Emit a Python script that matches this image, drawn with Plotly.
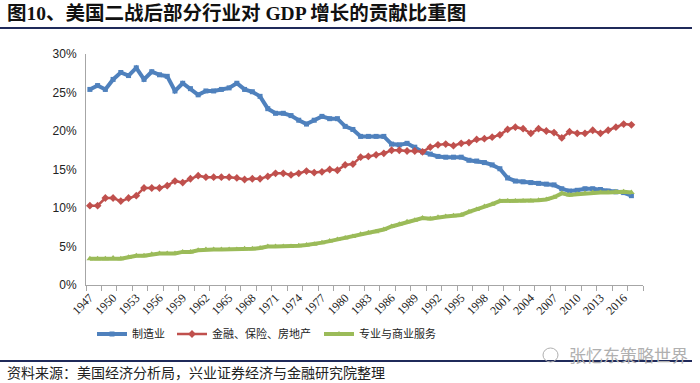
import plotly.graph_objects as go

years = list(range(1947, 2018))

manufacturing = [25.4, 25.9, 25.4, 26.7, 27.6, 27.2, 28.2, 26.7, 27.7, 27.3, 27.1, 25.2, 26.2, 25.5, 24.7, 25.2,
                 25.2, 25.4, 25.6, 26.2, 25.4, 25.1, 24.5, 22.9, 22.3, 22.3, 22.0, 21.4, 20.9, 21.4, 21.9, 21.6,
                 21.6, 20.6, 20.2, 19.3, 19.3, 19.3, 19.3, 18.3, 18.2, 18.4, 17.9, 17.3, 17.0, 16.7, 16.6, 16.6,
                 16.6, 16.2, 16.1, 15.9, 15.6, 15.1, 13.9, 13.5, 13.4, 13.3, 13.2, 13.1, 13.0, 12.5, 12.2, 12.3,
                 12.5, 12.5, 12.4, 12.2, 12.1, 12.0, 11.6]

finance = [10.3, 10.3, 11.3, 11.3, 10.9, 11.3, 11.6, 12.6, 12.6, 12.6, 12.9, 13.5, 13.3, 13.8, 14.2, 14.0,
           14.0, 14.0, 14.0, 13.9, 13.7, 13.8, 13.8, 14.1, 14.5, 14.5, 14.3, 14.5, 14.8, 14.6, 14.7, 15.0,
           14.9, 15.6, 15.7, 16.6, 16.7, 16.9, 17.1, 17.5, 17.5, 17.4, 17.4, 17.3, 17.9, 18.2, 18.3, 18.1,
           18.4, 18.5, 18.9, 19.0, 19.2, 19.5, 20.2, 20.5, 20.3, 19.7, 20.3, 20.0, 19.8, 19.1, 19.9, 19.7,
           19.7, 20.1, 19.7, 20.1, 20.5, 20.9, 20.8]

services = [3.4, 3.4, 3.4, 3.5, 3.4, 3.6, 3.8, 3.8, 4.0, 4.1, 4.1, 4.1, 4.3, 4.3, 4.5, 4.6,
            4.6, 4.6, 4.6, 4.6, 4.7, 4.7, 4.8, 5.0, 5.0, 5.0, 5.0, 5.1, 5.2, 5.3, 5.5, 5.7,
            5.9, 6.1, 6.3, 6.6, 6.8, 6.9, 7.2, 7.6, 7.9, 8.2, 8.4, 8.7, 8.6, 8.8, 8.9, 9.0,
            9.1, 9.5, 9.8, 10.2, 10.5, 10.9, 10.9, 10.9, 10.9, 10.9, 11.0, 11.1, 11.4, 11.9, 11.7, 11.8,
            11.9, 12.0, 12.0, 12.0, 12.1, 12.1, 12.0]

label_years = list(range(1947, 2017, 3))
y_ticks = [0, 5, 10, 15, 20, 25, 30]

names = ["制造业", "金融、保险、房地产", "专业与商业服务"]
colors = ["#4F81BD", "#C0504D", "#9BBB59"]

W, H = 700, 383
L, R, T, B = 86, 57, 54, 98
PW, PH = W - L - R, H - T - B


def px(x):
    return (x - L) / PW


def py(y):
    return (H - B - y) / PH


fig = go.Figure()
fig.add_trace(go.Scatter(x=years, y=manufacturing, name=names[0], mode="lines+markers", legend="legend",
                         line=dict(color=colors[0], width=4),
                         marker=dict(symbol="square", size=5, color=colors[0])))
fig.add_trace(go.Scatter(x=years, y=finance, name=names[1], mode="lines+markers", legend="legend2",
                         line=dict(color=colors[1], width=2.5),
                         marker=dict(symbol="diamond", size=6, color=colors[1])))
fig.add_trace(go.Scatter(x=years, y=services, name=names[2], mode="lines+markers", legend="legend3",
                         line=dict(color=colors[2], width=4),
                         marker=dict(symbol="triangle-up", size=6, color=colors[2])))

cjk = "Liberation Serif, Noto Sans CJK SC"
leg_font = dict(family="Noto Sans CJK SC", size=11, color="#222222")


def legend_at(xpix):
    return dict(orientation="h", x=px(xpix), y=py(334), xanchor="left", yanchor="middle",
                font=leg_font, itemwidth=30, bgcolor="rgba(0,0,0,0)", borderwidth=0)


fig.update_layout(
    width=W, height=H,
    margin=dict(l=L, r=R, t=T, b=B),
    paper_bgcolor="white", plot_bgcolor="white",
    showlegend=True,
    legend=legend_at(92),
    legend2=legend_at(172),
    legend3=legend_at(319),
    xaxis=dict(range=[1946.5, 2018.5], tickmode="array", tickvals=label_years,
               ticktext=[str(v) for v in label_years], tickangle=-45, ticks="",
               showline=True, linecolor="#A6A6A6", linewidth=1, showgrid=False, zeroline=False,
               tickfont=dict(family="Liberation Serif", size=12, color="#222222"),
               minor=dict(tickmode="linear", tick0=1946.5, dtick=2, ticks="outside", ticklen=5,
                          tickcolor="#A6A6A6", showgrid=False)),
    yaxis=dict(range=[0, 30], tickvals=y_ticks, ticktext=[f"{v}%" for v in y_ticks],
               showline=True, linecolor="#A6A6A6", linewidth=1, showgrid=False, zeroline=False,
               ticks="", ticklabelstandoff=6,
               tickfont=dict(family="Liberation Sans", size=12, color="#222222")),
    annotations=[
        dict(text="<b>图10、美国二战后部分行业对 GDP 增长的贡献比重图</b>", xref="paper", yref="paper",
             x=px(5), y=py(13), xanchor="left", yanchor="middle", showarrow=False,
             font=dict(family=cjk, size=19.5, color="#111111")),
        dict(text="资料来源：美国经济分析局，兴业证券经济与金融研究院整理", xref="paper", yref="paper",
             x=px(5), y=py(373), xanchor="left", yanchor="middle", showarrow=False,
             font=dict(family=cjk, size=14, color="#222222")),
        dict(text="张忆东策略世界", xref="paper", yref="paper",
             x=px(690), y=py(354), xanchor="right", yanchor="middle", showarrow=False,
             font=dict(family="Noto Sans CJK SC", size=17, color="#B0B0B0")),
    ],
    shapes=[
        dict(type="line", xref="paper", yref="paper", x0=px(0), x1=px(692), y0=py(28), y1=py(28),
             line=dict(color="#1F2A5A", width=2)),
        dict(type="line", xref="paper", yref="paper", x0=px(0), x1=px(692), y0=py(361), y1=py(361),
             line=dict(color="#1F2A5A", width=2)),
        dict(type="circle", xref="paper", yref="paper", x0=px(543), x1=px(558), y0=py(362), y1=py(348),
             line=dict(color="#B0B0B0", width=1)),
    ],
)

fig.write_html("out.html", config={"displayModeBar": False},
               post_script="document.body.style.margin='0px';")
